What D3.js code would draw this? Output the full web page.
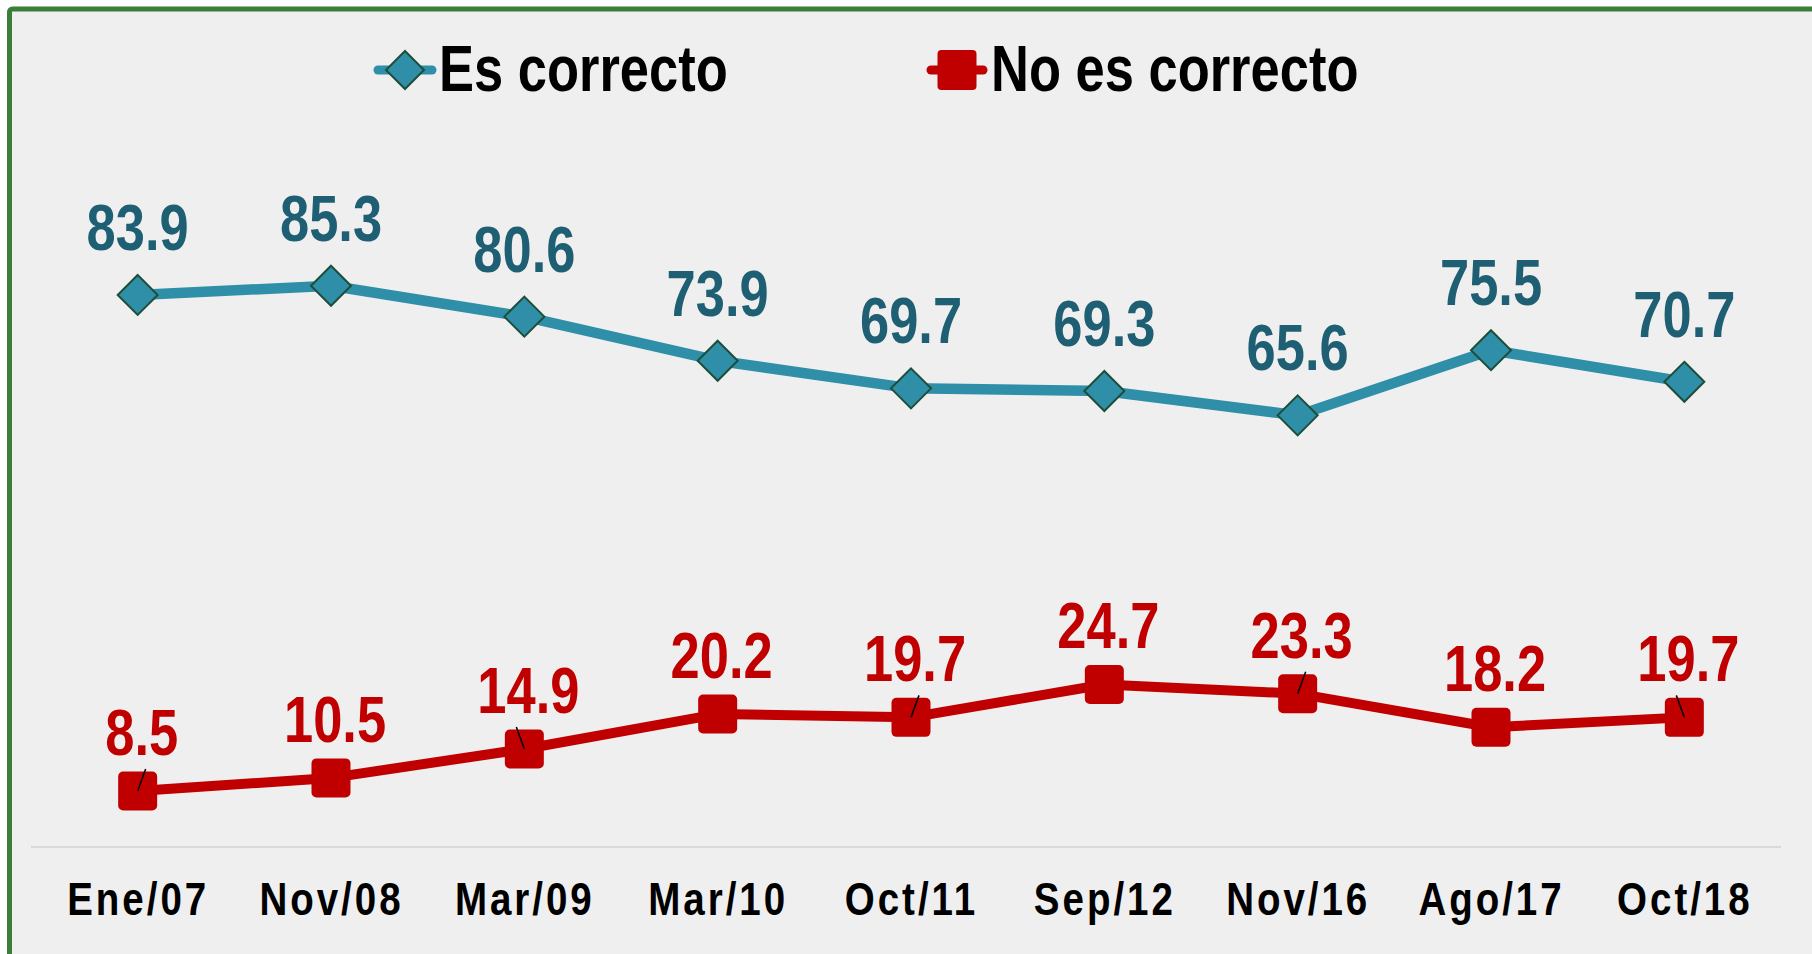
<!DOCTYPE html>
<html>
<head>
<meta charset="utf-8">
<script src="https://cdn.jsdelivr.net/npm/d3@7"></script>
<style>
  html, body { margin: 0; padding: 0; background: #ffffff; }
  svg { display: block; }
  text { font-family: "Liberation Sans Narrow", "Arial Narrow", "Liberation Sans", Arial, sans-serif; font-weight: bold; }
</style>
</head>
<body>
<div id="chart"></div>
<script>
const categories = ["Ene/07", "Nov/08", "Mar/09", "Mar/10", "Oct/11", "Sep/12", "Nov/16", "Ago/17", "Oct/18"];
const esCorrecto = [83.9, 85.3, 80.6, 73.9, 69.7, 69.3, 65.6, 75.5, 70.7];
const noEsCorrecto = [8.5, 10.5, 14.9, 20.2, 19.7, 24.7, 23.3, 18.2, 19.7];
// label leader lines in the original (1 = leans right, -1 = leans left, 0 = none)
const leaderTilt = [1, 0, -1, 0, 1, 0, 1, 0, -1];
const seriesNames = ["Es correcto", "No es correcto"];

const width = 1812;
const height = 954;
const squeeze = 0.82; // no narrow font installed, so condense the regular one

const blue = "#2f8ea8";
const blueDark = "#1f5f73";
const diamondStroke = "#1d4e3a";
const red = "#c00000";

const svg = d3
  .select("#chart")
  .append("svg")
  .attr("width", width)
  .attr("height", height);

// panel with green frame (right/bottom edges run off the canvas)
svg
  .append("rect")
  .attr("x", 9.5)
  .attr("y", 9)
  .attr("width", width + 20)
  .attr("height", height + 20)
  .attr("rx", 3)
  .attr("fill", "#efefef")
  .attr("stroke", "#3a7e3a")
  .attr("stroke-width", 5);

const x = d3.scalePoint().domain(categories).range([41, 1781]).padding(0.5);
const y = d3.scaleLinear().domain([0, 100]).range([847, 189]);

// baseline
svg
  .append("line")
  .attr("x1", 31)
  .attr("x2", 1781)
  .attr("y1", y(0))
  .attr("y2", y(0))
  .attr("stroke", "#d9d9d9")
  .attr("stroke-width", 2);

const xAxis = svg
  .append("g")
  .attr("transform", `translate(0, ${y(0)})`)
  .call(d3.axisBottom(x).tickSize(0).tickPadding(35));
xAxis.select(".domain").remove();
xAxis
  .selectAll("text")
  .attr("font-size", 47)
  .attr("letter-spacing", "3.6px")
  .attr("fill", "#000")
  .attr("transform", `scale(${squeeze}, 1)`);

const lineGen = d3
  .line()
  .x((d, i) => x(categories[i]))
  .y((d) => y(d));

// Es correcto
svg
  .append("path")
  .datum(esCorrecto)
  .attr("d", lineGen)
  .attr("fill", "none")
  .attr("stroke", blue)
  .attr("stroke-width", 10.5)
  .attr("stroke-linejoin", "round");

const diamond = (r) => `M0,${-r}L${r},0L0,${r}L${-r},0Z`;

svg
  .selectAll("path.diamond")
  .data(esCorrecto)
  .join("path")
  .attr("class", "diamond")
  .attr("d", diamond(20))
  .attr("transform", (d, i) => `translate(${x(categories[i])}, ${y(d)})`)
  .attr("fill", blue)
  .attr("stroke", diamondStroke)
  .attr("stroke-width", 2);

svg
  .selectAll("text.lblBlue")
  .data(esCorrecto)
  .join("text")
  .attr("class", "lblBlue")
  .attr("transform", (d, i) => `translate(${x(categories[i])}, ${y(d) - 45}) scale(${squeeze}, 1)`)
  .attr("text-anchor", "middle")
  .attr("font-size", 64)
  .attr("fill", blueDark)
  .text((d) => d.toFixed(1));

// No es correcto
svg
  .append("path")
  .datum(noEsCorrecto)
  .attr("d", lineGen)
  .attr("fill", "none")
  .attr("stroke", red)
  .attr("stroke-width", 10)
  .attr("stroke-linejoin", "round");

svg
  .selectAll("rect.square")
  .data(noEsCorrecto)
  .join("rect")
  .attr("class", "square")
  .attr("x", (d, i) => x(categories[i]) - 19.5)
  .attr("y", (d) => y(d) - 19.5)
  .attr("width", 39)
  .attr("height", 39)
  .attr("rx", 5)
  .attr("fill", red);

svg
  .selectAll("line.leader")
  .data(noEsCorrecto.map((v, i) => ({ v, i })).filter((d) => leaderTilt[d.i] !== 0))
  .join("line")
  .attr("class", "leader")
  .attr("x1", (d) => x(categories[d.i]))
  .attr("y1", (d) => y(d.v))
  .attr("x2", (d) => x(categories[d.i]) + 8 * leaderTilt[d.i])
  .attr("y2", (d) => y(d.v) - 22)
  .attr("stroke", "#000")
  .attr("stroke-width", 1.5);

svg
  .selectAll("text.lblRed")
  .data(noEsCorrecto)
  .join("text")
  .attr("class", "lblRed")
  .attr("transform", (d, i) => `translate(${x(categories[i]) + 4}, ${y(d) - 36}) scale(${squeeze}, 1)`)
  .attr("text-anchor", "middle")
  .attr("font-size", 64)
  .attr("fill", red)
  .text((d) => d.toFixed(1));

// legend
const legend = svg.append("g").attr("transform", "translate(0, 70)");

const leg1 = legend.append("g").attr("transform", "translate(405, 0)");
leg1
  .append("line")
  .attr("x1", -27)
  .attr("x2", 27)
  .attr("stroke", blue)
  .attr("stroke-width", 9)
  .attr("stroke-linecap", "round");
leg1
  .append("path")
  .attr("d", diamond(19))
  .attr("fill", blue)
  .attr("stroke", diamondStroke)
  .attr("stroke-width", 2);
leg1
  .append("text")
  .attr("transform", `translate(34, 21) scale(${squeeze}, 1)`)
  .attr("font-size", 64)
  .attr("fill", "#000")
  .text(seriesNames[0]);

const leg2 = legend.append("g").attr("transform", "translate(957, 0)");
leg2
  .append("line")
  .attr("x1", -26)
  .attr("x2", 26)
  .attr("stroke", red)
  .attr("stroke-width", 9)
  .attr("stroke-linecap", "round");
leg2
  .append("rect")
  .attr("x", -19.5)
  .attr("y", -20)
  .attr("width", 39)
  .attr("height", 40)
  .attr("rx", 4)
  .attr("fill", red);
leg2
  .append("text")
  .attr("transform", `translate(34, 21) scale(${squeeze}, 1)`)
  .attr("font-size", 64)
  .attr("fill", "#000")
  .text(seriesNames[1]);
</script>
</body>
</html>
